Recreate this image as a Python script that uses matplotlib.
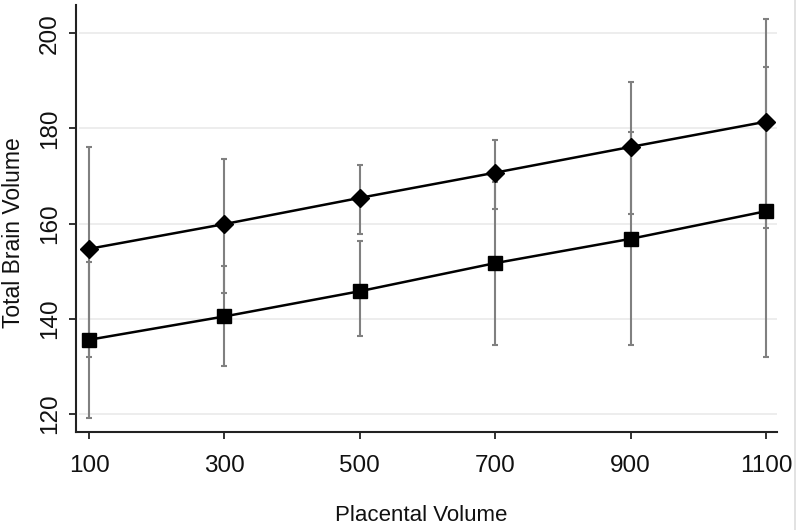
import matplotlib
matplotlib.use("Agg")
from matplotlib import pyplot as plt
from matplotlib.lines import Line2D
import numpy as np

# Data
placental = [100, 300, 500, 700, 900, 1100]

# upper series (diamonds)
diamondMean = [154.7, 159.9, 165.4, 170.7, 176.1, 181.4]
diamondLow = [132.0, 145.5, 157.8, 163.0, 162.0, 159.1]
diamondHigh = [176.1, 173.6, 172.3, 177.6, 189.8, 203.0]

# lower series (squares)
squareMean = [135.6, 140.5, 145.8, 151.7, 156.8, 162.6]
squareLow = [119.1, 130.0, 136.3, 134.4, 134.5, 132.0]
squareHigh = [151.9, 151.2, 156.4, 168.8, 179.3, 192.8]

yTicks = [120, 140, 160, 180, 200]

plt.rcParams['font.family'] = ['Liberation Sans Narrow', 'Liberation Sans', 'DejaVu Sans']

fig = plt.figure(figsize=(8, 5.3), dpi=100)
ax = fig.add_axes([0.0956, 0.1855, 0.8754, 0.805])

# faint horizontal grid
for yv in yTicks:
    ax.axhline(yv, xmin=0.005, xmax=1.0, color="#ededed", lw=1.4, zorder=0)

errColor = "#808080"
for mean, lo, hi in [(diamondMean, diamondLow, diamondHigh), (squareMean, squareLow, squareHigh)]:
    mean = np.array(mean)
    yerr = [mean - np.array(lo), np.array(hi) - mean]
    ax.errorbar(placental, mean, yerr=yerr, fmt="none", ecolor=errColor,
                elinewidth=1.5, capsize=2.5, capthick=1.5, zorder=2)

ax.plot(placental, diamondMean, color="black", lw=1.8, marker="D", ms=9,
        markerfacecolor="black", zorder=4)
ax.plot(placental, squareMean, color="black", lw=1.8, marker="s", ms=10.5,
        markerfacecolor="black", zorder=4)

ax.set_xlim(81.5, 1116)
ax.set_ylim(116.3, 205.9)
ax.set_xticks(placental)
ax.set_yticks(yTicks)
ax.tick_params(axis="both", direction="out", length=5, width=1.3, color="#222222",
               labelsize=17.5, labelcolor="#111111")
ax.tick_params(axis="x", pad=12)
ax.tick_params(axis="y", pad=6)
for lbl in ax.get_yticklabels():
    lbl.set_rotation(90)
    lbl.set_va("center")

for side in ["top", "right"]:
    ax.spines[side].set_visible(False)
for side in ["left", "bottom"]:
    ax.spines[side].set_linewidth(1.5)
    ax.spines[side].set_color("#222222")

ax.set_ylabel("Total Brain Volume", fontsize=16.5, family=["Liberation Sans", "DejaVu Sans"],
              color="#111111")
ax.yaxis.set_label_coords(-0.0736, 0.467)
ax.set_xlabel("Placental Volume", fontsize=16, family=["Liberation Sans", "DejaVu Sans"],
              color="#111111")
ax.xaxis.set_label_coords(0.492, -0.172)

# faint image edge on the right
fig.add_artist(Line2D([0.994, 0.994], [0, 1], color="#dddddd", lw=1.2))

fig.savefig("out.png", dpi=100, facecolor="white")
